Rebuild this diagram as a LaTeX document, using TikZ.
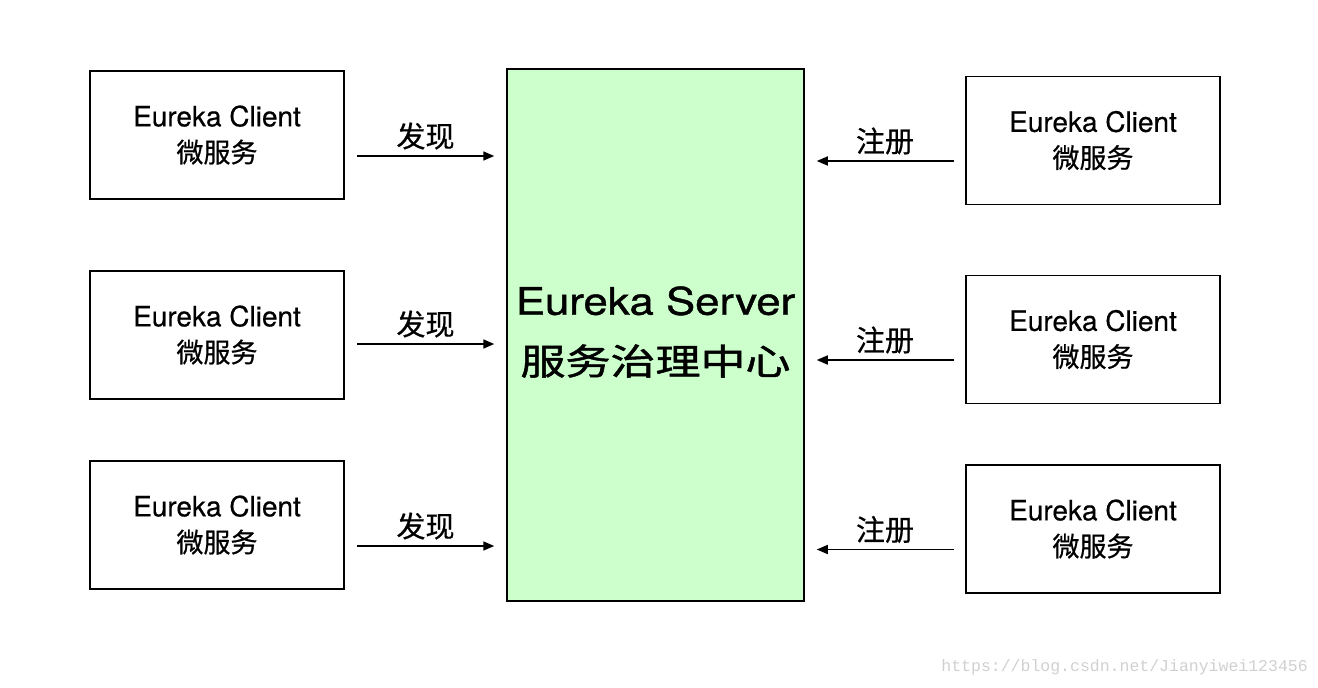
\documentclass[tikz,border=0pt]{standalone}
\usepackage{fontspec}
\usepackage{graphicx}
\setmainfont{TeX Gyre Heros}[FakeBold=0.4]
\newfontfamily\cjk{Noto Sans CJK SC}[FakeBold=0.6]
\newfontfamily\srvfont{TeX Gyre Heros}[FakeBold=1.0]
\newfontfamily\srvcjk{Noto Sans CJK SC}[FakeBold=1.2]
\newfontfamily\wmfont{Liberation Mono}
\usetikzlibrary{arrows.meta}
\definecolor{srvgreen}{RGB}{204,255,204}
\definecolor{wmgray}{RGB}{208,208,208}
\tikzset{
  client/.style={draw=black, line width=1.5pt, minimum width=254pt, minimum height=128pt,
    inner sep=0pt, align=center, font=\fontsize{28}{36}\selectfont},
  server/.style={draw=black, line width=1.5pt, fill=srvgreen, minimum width=297pt,
    minimum height=532pt, inner sep=0pt},
  arr/.style={line width=1.6pt, -{Triangle[length=11pt,width=9pt]}},
  lbl/.style={font=\fontsize{29}{30}\cjk, inner sep=0pt},
}
\begin{document}
\begin{tikzpicture}[x=1pt,y=-1pt]
\useasboundingbox (0,0) rectangle (1318,688);
% server
\node[server] (srv) at (655.5,335) {};
\node[align=center, inner sep=0pt, font=\fontsize{38}{60}\srvfont] (srvtext) at ([yshift=3pt]srv.center)
  {\scalebox{1.15}[1]{Eureka Server}\\\scalebox{1.25}[1]{\fontsize{36}{60}\srvcjk 服务治理中心}};
% left clients
\node[client] (l1) at (217,135) {Eureka Client\\{\fontsize{27}{36}\cjk 微服务}};
\node[client] (l2) at (217,335) {Eureka Client\\{\fontsize{27}{36}\cjk 微服务}};
\node[client] (l3) at (217,525) {Eureka Client\\{\fontsize{27}{36}\cjk 微服务}};
% right clients
\node[client] (r1) at (1093,140.5) {Eureka Client\\{\fontsize{27}{36}\cjk 微服务}};
\node[client] (r2) at (1093,339.5) {Eureka Client\\{\fontsize{27}{36}\cjk 微服务}};
\node[client] (r3) at (1093,529) {Eureka Client\\{\fontsize{27}{36}\cjk 微服务}};
% discovery arrows
\foreach \c/\dy in {l1/-21,l2/-9,l3/-21}{
  \draw[arr, shorten <=12pt, shorten >=12pt] ([yshift=\dy pt]\c.east) -- ([yshift=\dy pt]\c.east -| srv.west)
    node[lbl, midway, yshift=20pt] {发现};
}
% register arrows
\foreach \c in {r1,r2,r3}{
  \draw[arr, shorten <=11pt, shorten >=12pt] ([yshift=-20.5pt]\c.west) -- ([yshift=-20.5pt]\c.west -| srv.east)
    node[lbl, midway, yshift=20pt] {注册};
}
% watermark
\node[font=\fontsize{16.5}{18}\wmfont, text=wmgray, anchor=east, inner sep=0pt] (wm) at (1308,667) {https://blog.csdn.net/Jianyiwei123456};
\end{tikzpicture}
\end{document}
